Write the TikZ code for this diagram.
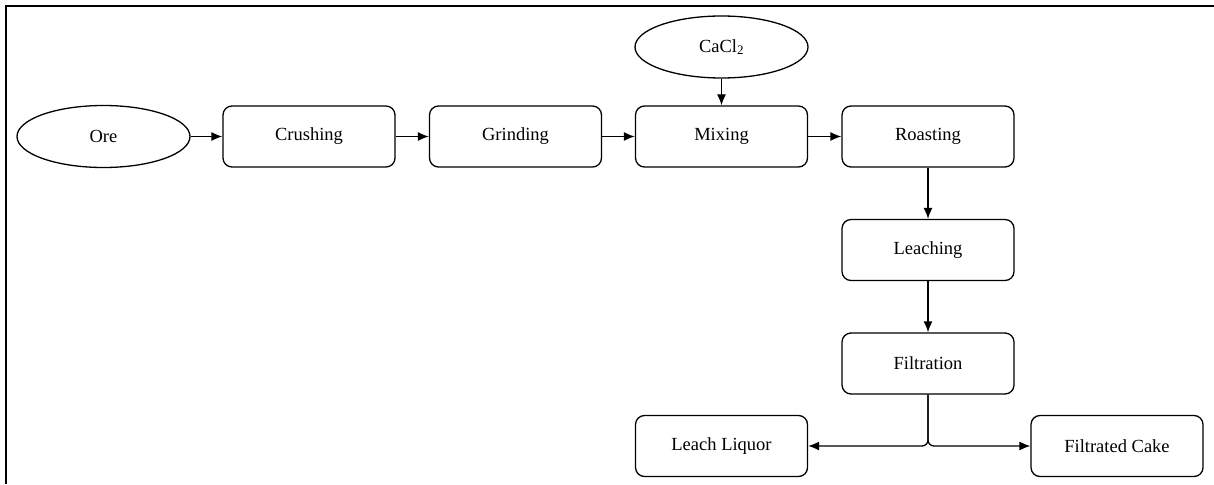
\documentclass[tikz,border=0pt]{standalone}
\usepackage{fontspec}
\setmainfont{Liberation Serif}
\usetikzlibrary{shapes.geometric,arrows.meta}
\begin{document}
\begin{tikzpicture}[x=1pt,y=-1pt,
  every node/.style={font=\fontsize{18.5}{22}\selectfont},
  proc/.style={draw, line width=1.3pt, rounded corners=9pt, minimum width=172pt, minimum height=61pt, inner sep=0pt},
  term/.style={draw, ellipse, line width=1.3pt, minimum width=173pt, minimum height=62pt, inner sep=0pt},
  flow/.style={line width=1.3pt, -{Latex[length=11pt,width=9pt]}}]
\useasboundingbox (0,0) rectangle (1214,484);
\fill[white] (0,0) rectangle (1214,484);
\draw[line width=1.6pt] (6,484) -- (6,6) -- (1214,6);
\node[term] (ore) at (103.5,136.5) {Ore};
\node[proc] (crush) at (309,136.5) {Crushing};
\node[proc] (grind) at (515.5,136.5) {Grinding};
\node[proc] (mix) at (721.5,136.5) {Mixing};
\node[proc] (roast) at (928,136.5) {Roasting};
\node[term] (cacl) at (721.5,47) {CaCl\textsubscript{2}};
\node[proc] (leach) at (928,250) {Leaching};
\node[proc] (filt) at (928,363.5) {Filtration};
\node[proc] (liq) at (721.5,446) {Leach Liquor};
\node[proc] (cake) at (1117,446) {Filtrated Cake};
\coordinate (split) at (928,446);
\draw[flow] (ore) -- (crush);
\draw[flow] (crush) -- (grind);
\draw[flow] (grind) -- (mix);
\draw[flow] (mix) -- (roast);
\draw[flow] (cacl) -- (mix);
\draw[flow] (roast) -- (leach);
\draw[flow] (leach) -- (filt);
\draw[flow, rounded corners=6pt] (filt.south) -- (split) -- (liq.east);
\draw[flow, rounded corners=6pt] (filt.south) -- (split) -- (cake.west);
\end{tikzpicture}
\end{document}
